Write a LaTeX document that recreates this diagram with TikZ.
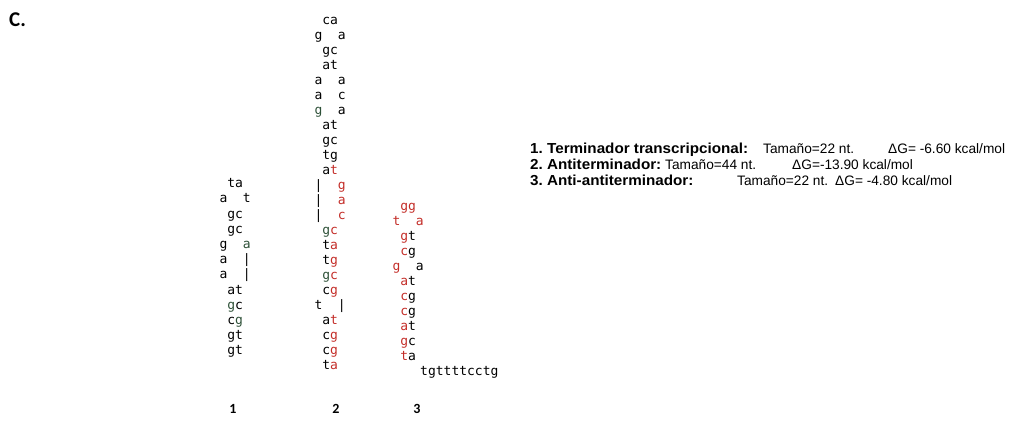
\documentclass[tikz,border=0pt]{standalone}
\usepackage{fontspec}
\setmainfont{Liberation Sans}
\newfontfamily\dnamono{DejaVu Sans Mono}
\newfontfamily\calib{Carlito}
\frenchspacing
\definecolor{dnared}{RGB}{195,45,40}
\definecolor{dkgreen}{RGB}{45,80,55}
\newcommand\Rd[1]{\textcolor{dnared}{#1}}
\newcommand\Gn[1]{\textcolor{dkgreen}{#1}}
\tikzset{
  mono/.style={inner sep=0pt, anchor=mid west, font=\dnamono\fontsize{13}{13}\selectfont, text=black},
  info/.style={inner sep=0pt, anchor=base west, font=\fontsize{13.7}{15}\selectfont\frenchspacing},
  infob/.style={info, xscale=1.05, font=\fontsize{14.5}{16}\selectfont\bfseries\frenchspacing},
  numlab/.style={inner sep=0pt, font=\calib\bfseries\fontsize{14}{14}\selectfont},
}
\newcommand\dnarow[4]{\node[mono] (#1) at (#2,#3) {#4};}
\begin{document}
\begin{tikzpicture}[x=1pt,y=-1pt]
\useasboundingbox (0,0) rectangle (1031,423);
\node[inner sep=0pt, anchor=west, font=\calib\bfseries\fontsize{21}{21}\selectfont] (title) at (9,20) {C.};
% structure 1
\dnarow{sa1}{219.3}{185.0}{~ta}
\dnarow{sa2}{219.3}{200.2}{a~~t}
\dnarow{sa3}{219.3}{215.4}{~gc}
\dnarow{sa4}{219.3}{230.6}{~gc}
\dnarow{sa5}{219.3}{245.8}{g~~\Gn{a}}
\dnarow{sa6}{219.3}{261.0}{a~~|}
\dnarow{sa7}{219.3}{276.2}{a~~|}
\dnarow{sa8}{219.3}{291.4}{~at}
\dnarow{sa9}{219.3}{306.6}{~\Gn{g}c}
\dnarow{sa10}{219.3}{321.8}{~c\Gn{g}}
\dnarow{sa11}{219.3}{337.0}{~gt}
\dnarow{sa12}{219.3}{352.2}{~gt}
% structure 2
\dnarow{sb1}{314.3}{22.0}{~ca}
\dnarow{sb2}{314.3}{37.0}{g~~a}
\dnarow{sb3}{314.3}{52.0}{~gc}
\dnarow{sb4}{314.3}{67.0}{~at}
\dnarow{sb5}{314.3}{82.0}{a~~a}
\dnarow{sb6}{314.3}{97.0}{a~~c}
\dnarow{sb7}{314.3}{112.0}{\Gn{g}~~a}
\dnarow{sb8}{314.3}{127.0}{~at}
\dnarow{sb9}{314.3}{142.0}{~gc}
\dnarow{sb10}{314.3}{157.0}{~tg}
\dnarow{sb11}{314.3}{172.0}{~a\Rd{t}}
\dnarow{sb12}{314.3}{187.0}{|~~\Rd{g}}
\dnarow{sb13}{314.3}{202.0}{|~~\Rd{a}}
\dnarow{sb14}{314.3}{217.0}{|~~\Rd{c}}
\dnarow{sb15}{314.3}{232.0}{~\Gn{g}\Rd{c}}
\dnarow{sb16}{314.3}{247.0}{~t\Rd{a}}
\dnarow{sb17}{314.3}{262.0}{~t\Rd{g}}
\dnarow{sb18}{314.3}{277.0}{~\Gn{g}\Rd{c}}
\dnarow{sb19}{314.3}{292.0}{~c\Rd{g}}
\dnarow{sb20}{314.3}{307.0}{t~~|}
\dnarow{sb21}{314.3}{322.0}{~a\Rd{t}}
\dnarow{sb22}{314.3}{337.0}{~c\Rd{g}}
\dnarow{sb23}{314.3}{352.0}{~c\Rd{g}}
\dnarow{sb24}{314.3}{367.0}{~t\Rd{a}}
% structure 3
\dnarow{sc1}{392.3}{208.0}{~\Rd{gg}}
\dnarow{sc2}{392.3}{223.0}{\Rd{t}~~\Rd{a}}
\dnarow{sc3}{392.3}{238.0}{~\Rd{g}t}
\dnarow{sc4}{392.3}{253.0}{~\Rd{c}g}
\dnarow{sc5}{392.3}{268.0}{\Rd{g}~~a}
\dnarow{sc6}{392.3}{283.0}{~\Rd{a}t}
\dnarow{sc7}{392.3}{298.0}{~\Rd{c}g}
\dnarow{sc8}{392.3}{313.0}{~\Rd{c}g}
\dnarow{sc9}{392.3}{328.0}{~\Rd{a}t}
\dnarow{sc10}{392.3}{343.0}{~\Rd{g}c}
\dnarow{sc11}{392.3}{358.0}{~\Rd{t}a}
\dnarow{sc12}{420}{373.0}{tgttttcctg}
% labels
\node[numlab] (n1) at (233,409) {1};
\node[numlab] (n2) at (336,409) {2};
\node[numlab] (n3) at (417,409) {3};
% info text
\node[infob] (t1a) at (530,153) {1. Terminador transcripcional:};
\node[info] (t1b) at (763,153) {Tamaño=22 nt.};
\node[info] (t1c) at (888,153) {ΔG= -6.60 kcal/mol};
\node[infob] (t2a) at (530,169) {2. Antiterminador:};
\node[info] (t2b) at (665,169) {Tamaño=44 nt.};
\node[info] (t2c) at (792,169) {ΔG=-13.90 kcal/mol};
\node[infob] (t3a) at (530,185) {3. Anti-antiterminador:};
\node[info] (t3b) at (737,185) {Tamaño=22 nt.};
\node[info] (t3c) at (835,185) {ΔG= -4.80 kcal/mol};
\end{tikzpicture}
\end{document}
